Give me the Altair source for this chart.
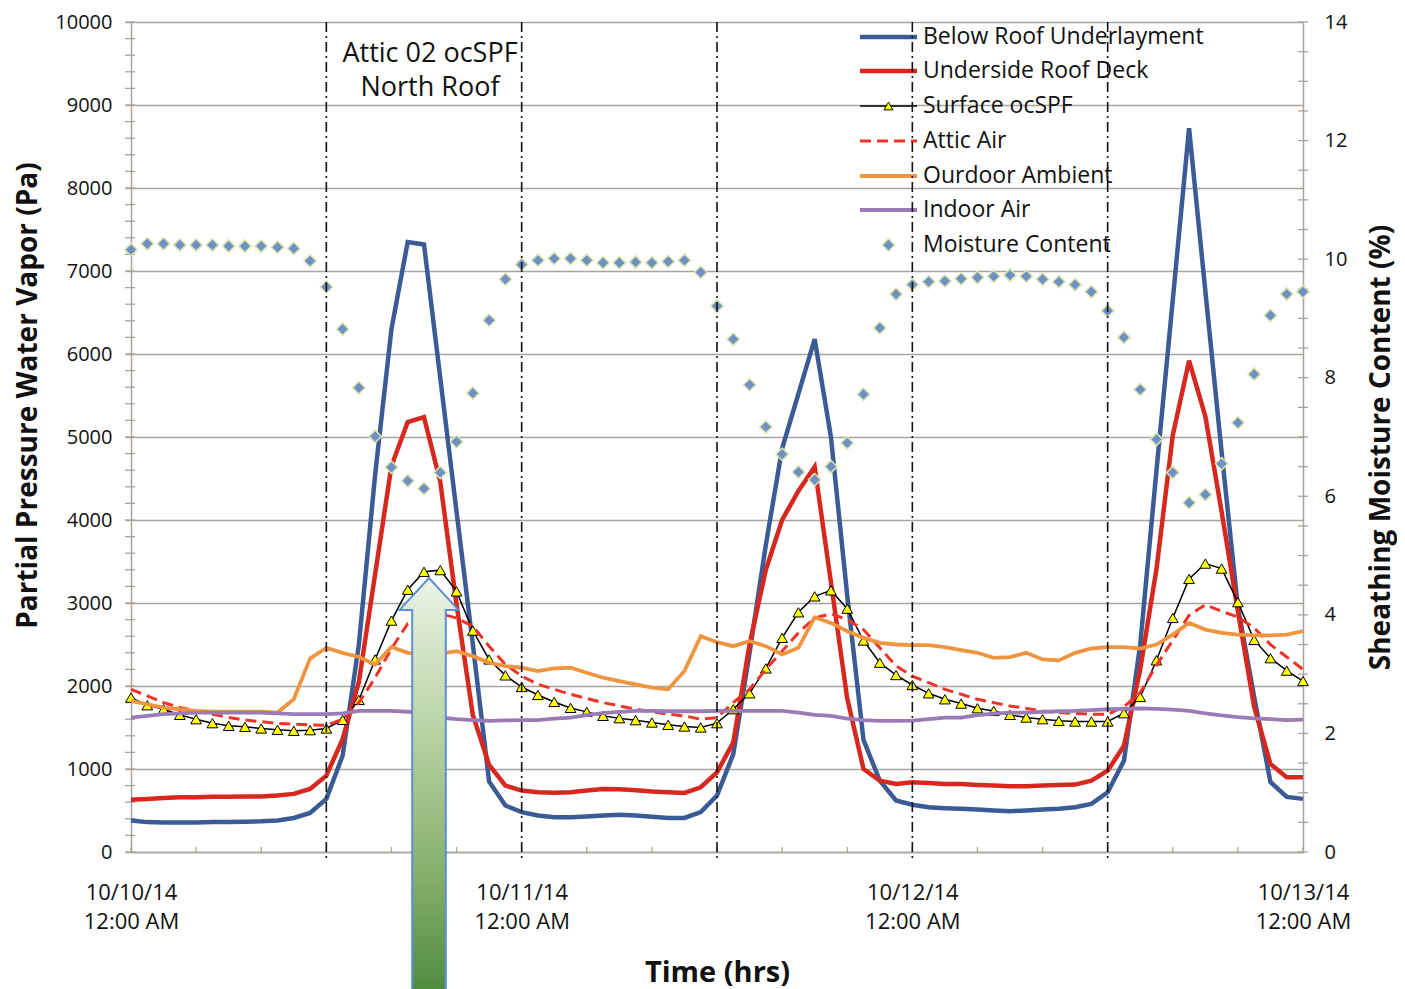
import altair as alt
import pandas as pd

# ---------------- data (hourly, 10/10/14 00:00 .. 10/13/14 00:00) ----------------
hours = list(range(73))

below_roof = (
    [380, 360, 355, 355, 355, 360, 360, 365, 370, 380, 410, 470, 640, 1160, 2500, 4550,
     6300, 7350, 7320, 5710, 4100, 2500, 850, 560, 480]
    + [440, 420, 420, 428, 440, 448, 440, 425, 410, 410, 480, 680, 1180, 2400, 3700, 4860,
       5520, 6180, 5000, 3090, 1350, 860, 620, 570]
    + [540, 528, 520, 512, 500, 492, 500, 512, 520, 540, 580, 720, 1100, 2500, 4600, 6650,
       8720, 6760, 4820, 2950, 1870, 843, 663, 640]
)
underside_deck = (
    [630, 640, 650, 660, 660, 665, 665, 670, 670, 680, 700, 760, 920, 1360, 2050, 3350,
     4650, 5180, 5240, 4460, 2980, 1650, 1050, 800, 740]
    + [720, 715, 720, 740, 760, 755, 745, 730, 720, 712, 780, 960, 1320, 2500, 3400, 4000,
       4350, 4640, 3250, 1850, 1000, 860, 820, 840]
    + [832, 820, 820, 808, 800, 792, 792, 800, 808, 812, 860, 980, 1280, 2200, 3410, 5020,
       5920, 5250, 4100, 2900, 1750, 1060, 900, 900]
)
surface_ocspf = (
    [1860, 1768, 1720, 1652, 1600, 1552, 1520, 1508, 1488, 1472, 1460, 1468, 1488, 1592,
     1832, 2320, 2788, 3160, 3376, 3396, 3140, 2668, 2320, 2128, 1988]
    + [1892, 1808, 1736, 1688, 1640, 1612, 1588, 1560, 1532, 1512, 1500, 1552, 1720, 1912,
       2212, 2580, 2888, 3080, 3152, 2932, 2548, 2280, 2132, 2012]
    + [1912, 1840, 1788, 1732, 1700, 1652, 1620, 1600, 1580, 1572, 1572, 1572, 1672, 1868,
       2310, 2820, 3290, 3475, 3415, 3010, 2555, 2335, 2185, 2060]
)
attic_air = (
    [1960, 1880, 1800, 1740, 1700, 1660, 1620, 1590, 1570, 1550, 1540, 1530, 1528, 1600,
     1800, 2100, 2450, 2750, 2860, 2870, 2820, 2720, 2480, 2260, 2120]
    + [2020, 1960, 1900, 1850, 1800, 1760, 1720, 1690, 1660, 1640, 1600, 1620, 1800, 1960,
       2200, 2420, 2640, 2820, 2870, 2800, 2680, 2460, 2240, 2120]
    + [2040, 1960, 1900, 1840, 1800, 1760, 1730, 1700, 1680, 1668, 1660, 1660, 1750, 1920,
       2250, 2550, 2850, 2980, 2900, 2830, 2700, 2500, 2350, 2200]
)
outdoor_ambient = (
    [1820, 1780, 1740, 1720, 1700, 1690, 1690, 1690, 1690, 1680, 1840, 2330, 2460, 2400,
     2350, 2260, 2470, 2400, 2380, 2390, 2420, 2360, 2280, 2240, 2220]
    + [2180, 2212, 2220, 2160, 2100, 2060, 2020, 1980, 1960, 2180, 2600, 2528, 2480, 2540,
       2480, 2380, 2460, 2828, 2760, 2660, 2580, 2520, 2500, 2492]
    + [2492, 2468, 2432, 2400, 2340, 2348, 2400, 2320, 2308, 2400, 2452, 2468, 2468, 2452,
       2500, 2620, 2760, 2680, 2640, 2620, 2610, 2610, 2620, 2660]
)
indoor_air = (
    [1620, 1640, 1660, 1670, 1680, 1680, 1680, 1680, 1680, 1670, 1660, 1660, 1660, 1670,
     1700, 1700, 1700, 1690, 1680, 1620, 1600, 1590, 1580, 1585, 1590]
    + [1588, 1608, 1620, 1648, 1672, 1688, 1700, 1700, 1696, 1696, 1696, 1700, 1700, 1700,
       1700, 1700, 1680, 1652, 1640, 1608, 1588, 1580, 1580, 1584]
    + [1600, 1620, 1620, 1648, 1668, 1680, 1680, 1688, 1696, 1700, 1710, 1720, 1725, 1730,
       1725, 1715, 1700, 1670, 1645, 1625, 1610, 1600, 1590, 1595]
)
moisture_content = (
    [10.16, 10.26, 10.26, 10.24, 10.24, 10.24, 10.22, 10.22, 10.22, 10.20, 10.18, 9.97,
     9.53, 8.82, 7.83, 7.01, 6.49, 6.26, 6.13, 6.40, 6.92, 7.74, 8.97, 9.66, 9.91]
    + [9.98, 10.01, 10.01, 9.98, 9.94, 9.94, 9.95, 9.94, 9.96, 9.98, 9.78, 9.21, 8.65,
       7.88, 7.17, 6.71, 6.41, 6.28, 6.50, 6.90, 7.72, 8.84, 9.41, 9.57]
    + [9.62, 9.63, 9.67, 9.69, 9.71, 9.73, 9.71, 9.66, 9.62, 9.57, 9.45, 9.13, 8.68,
       7.80, 6.96, 6.40, 5.89, 6.03, 6.55, 7.24, 8.06, 9.05, 9.41, 9.45]
)

series_names = ["Below Roof Underlayment", "Underside Roof Deck", "Surface ocSPF",
                "Attic Air", "Ourdoor Ambient", "Indoor Air", "Moisture Content"]
pa_series = dict(zip(series_names[:6], [below_roof, underside_deck, surface_ocspf,
                                          attic_air, outdoor_ambient, indoor_air]))

x_label_hours = [0, 24, 48, 72]
x_label_dates = ["10/10/14", "10/11/14", "10/12/14", "10/13/14"]
x_label_times = ["12:00 AM", "12:00 AM", "12:00 AM", "12:00 AM"]
divider_hours = [12, 24, 36, 48, 60]
pa_ticks = list(range(0, 10001, 1000))
pa_minor = list(range(0, 10001, 200))
mc_ticks = list(range(0, 15, 2))
mc_minor = [i * 0.5 for i in range(29)]
x_minor = list(range(0, 73, 4))
annotation_lines = ["Attic 02 ocSPF", "North Roof"]

for s in pa_series.values():
    assert len(s) == 73
assert len(moisture_content) == 73

# ---------------- styles / layout ----------------
FONT = "Open Sans"
GRID = "#a9a39d"
TXT = "#111111"
W, H = 1172, 830
BLUE, RED, DRED, ORANGE, PURPLE = "#3b5b95", "#d6281f", "#ee3328", "#ef953f", "#9b7bb6"
DIA_FILL, DIA_STROKE = "#6f90c2", "#d9e5b0"

pa_long = pd.DataFrame([{"hour": h, "pa": v, "series": k}
                        for k, vals in pa_series.items() for h, v in zip(hours, vals)])
mc_df = pd.DataFrame({"hour": hours, "mc": moisture_content})
dummy = pd.DataFrame({"a": [0]})

label_expr = " : ".join(
    f"datum.value == {h} ? ['{d}', '{t}']"
    for h, d, t in zip(x_label_hours, x_label_dates, x_label_times)) + " : ''"

x_scale = alt.Scale(domain=[0, 72], nice=False, zero=False)
pa_scale = alt.Scale(domain=[0, 10000], nice=False)
mc_scale = alt.Scale(domain=[0, 14], nice=False)

x_axis = alt.Axis(values=x_label_hours, labelExpr=label_expr, ticks=False, grid=False,
                  domainColor=GRID, domainWidth=1.5, labelFont=FONT, labelFontSize=22,
                  labelColor=TXT, labelPadding=30, labelLineHeight=29.5, labelFlush=False,
                  labelOverlap=False, labelBound=False, title="Time (hrs)", titleFont=FONT,
                  titleFontSize=29, titleFontWeight="bold", titleColor=TXT, titlePadding=26)
pa_axis = alt.Axis(values=pa_ticks, format="d", grid=True, gridColor=GRID, gridWidth=1.4,
                   domainColor=GRID, domainWidth=1.5, tickColor=GRID, tickSize=6,
                   tickWidth=1.4, labelFont=FONT, labelFontSize=20, labelColor=TXT,
                   labelPadding=13, title="Partial Pressure Water Vapor (Pa)", titleFont=FONT,
                   titleFontSize=28, titleFontWeight="bold", titleColor=TXT,
                   titlePadding=12, titleY=373)
mc_axis = alt.Axis(orient="right", values=mc_ticks, grid=False, ticks=False,
                   domainColor=GRID, domainWidth=1.5, labelFont=FONT, labelFontSize=20,
                   labelColor=TXT, labelPadding=21, title="Sheathing Moisture Content (%)",
                   titleFont=FONT, titleFontSize=28, titleFontWeight="bold", titleColor=TXT,
                   titleAngle=270, titleBaseline="top", titlePadding=21, titleY=425)

X = alt.X("hour:Q", scale=x_scale, axis=x_axis)
Y = alt.Y("pa:Q", scale=pa_scale, axis=pa_axis)
YM = alt.Y("mc:Q", scale=mc_scale, axis=mc_axis)


def pa_chart(name):
    return alt.Chart(pa_long).transform_filter(alt.datum.series == name)


blue = pa_chart(series_names[0]).mark_line(color=BLUE, strokeWidth=4.5).encode(x=X, y=Y)
red = pa_chart(series_names[1]).mark_line(color=RED, strokeWidth=4.5).encode(x=X, y=Y)
surf_line = pa_chart(series_names[2]).mark_line(color="black", strokeWidth=1.5).encode(x=X, y=Y)
surf_pts = pa_chart(series_names[2]).mark_point(
    shape="triangle-up", filled=True, fill="#ffff00", stroke="black", strokeWidth=1,
    size=115, opacity=1).encode(x=X, y=Y)
attic = pa_chart(series_names[3]).mark_line(color=DRED, strokeWidth=3,
                                            strokeDash=[11, 6]).encode(x=X, y=Y)
orange = pa_chart(series_names[4]).mark_line(color=ORANGE, strokeWidth=3.8).encode(x=X, y=Y)
purple = pa_chart(series_names[5]).mark_line(color=PURPLE, strokeWidth=3.8).encode(x=X, y=Y)

pa_minor_ticks = alt.Chart(pd.DataFrame({"pa": pa_minor})).mark_rule(
    color=GRID, strokeWidth=1.3).encode(y=Y, x=alt.value(-6), x2=alt.value(4))
x_minor_ticks = alt.Chart(pd.DataFrame({"hour": x_minor})).mark_rule(
    color=GRID, strokeWidth=1.3).encode(x=X, y=alt.value(H), y2=alt.value(H - 5))

left = alt.layer(pa_minor_ticks, x_minor_ticks, blue, red, surf_line, surf_pts, attic,
                 orange, purple)

mc_pts = alt.Chart(mc_df).mark_point(
    shape="diamond", filled=True, fill=DIA_FILL, stroke=DIA_STROKE, strokeWidth=1.5,
    size=155, opacity=1).encode(x=X, y=YM)
mc_minor_ticks = alt.Chart(pd.DataFrame({"mc": mc_minor})).mark_rule(
    color=GRID, strokeWidth=1.3).encode(y=YM, x=alt.value(W - 5), x2=alt.value(W + 5))
right = alt.layer(mc_minor_ticks, mc_pts)

# ---------------- legend (manual) ----------------
LEG_Y = [15, 49, 84, 119, 154, 188, 223]
LX0, LX1, LXT = 729, 786, 792


def leg_rule(i, color, width, dash=None):
    kw = dict(color=color, strokeWidth=width)
    if dash:
        kw["strokeDash"] = dash
    return alt.Chart(dummy).mark_rule(**kw).encode(
        x=alt.value(LX0), x2=alt.value(LX1), y=alt.value(LEG_Y[i]))


legend_layers = [
    leg_rule(0, BLUE, 4.5), leg_rule(1, RED, 4.5), leg_rule(2, "black", 1.5),
    leg_rule(3, DRED, 3, [11, 6]), leg_rule(4, ORANGE, 3.8), leg_rule(5, PURPLE, 3.8),
    alt.Chart(dummy).mark_point(shape="triangle-up", filled=True, fill="#ffff00",
                                stroke="black", strokeWidth=1, size=80, opacity=1).encode(
        x=alt.value((LX0 + LX1) / 2), y=alt.value(LEG_Y[2])),
    alt.Chart(dummy).mark_point(shape="diamond", filled=True, fill=DIA_FILL,
                                stroke=DIA_STROKE, strokeWidth=1.5, size=155,
                                opacity=1).encode(
        x=alt.value((LX0 + LX1) / 2), y=alt.value(LEG_Y[6])),
]
for i, name in enumerate(series_names):
    legend_layers.append(alt.Chart(dummy).mark_text(
        align="left", baseline="middle", font=FONT, fontSize=23, color=TXT).encode(
        x=alt.value(LXT), y=alt.value(LEG_Y[i]), text=alt.value(name)))

# ---------------- annotations ----------------
dividers = alt.Chart(pd.DataFrame({"hour": divider_hours})).mark_rule(
    color="#111111", strokeWidth=1.6, strokeDash=[10, 4, 2, 4]).encode(
    x=X, y=alt.value(0), y2=alt.value(H + 6))

notes = [alt.Chart(dummy).mark_text(align="center", baseline="middle", font=FONT,
                                    fontSize=27, color=TXT).encode(
    x=alt.value(299), y=alt.value(yv), text=alt.value(t))
    for t, yv in zip(annotation_lines, [32, 66])]

arrow_path = ("M0,-1L0.14,-0.848L0.08,-0.848L0.08,1L-0.08,1L-0.08,-0.848"
              "L-0.14,-0.848Z")
arrow_fill = alt.LinearGradient(
    gradient="linear", x1=0, x2=0, y1=0, y2=1,
    stops=[alt.GradientStop(color="#ebf3e7", offset=0),
           alt.GradientStop(color="#b9d4a5", offset=0.35),
           alt.GradientStop(color="#87b06d", offset=0.7),
           alt.GradientStop(color="#4b8a3b", offset=1)])
arrow = alt.Chart(dummy).mark_point(
    shape=arrow_path, filled=True, fill=arrow_fill, stroke="#5b8fd6", strokeWidth=2,
    size=176400, opacity=1).encode(x=alt.value(298), y=alt.value(766))

chart = alt.layer(left, right, *legend_layers, *notes, dividers, arrow).resolve_scale(
    y="independent"
).properties(
    width=W, height=H,
    autosize=alt.AutoSizeParams(type="none"),
    padding={"left": 123, "top": 14, "right": 94, "bottom": 140},
).configure_view(strokeWidth=0).configure(background="white")

chart.save("out.html", embed_options={"renderer": "svg", "actions": False})
